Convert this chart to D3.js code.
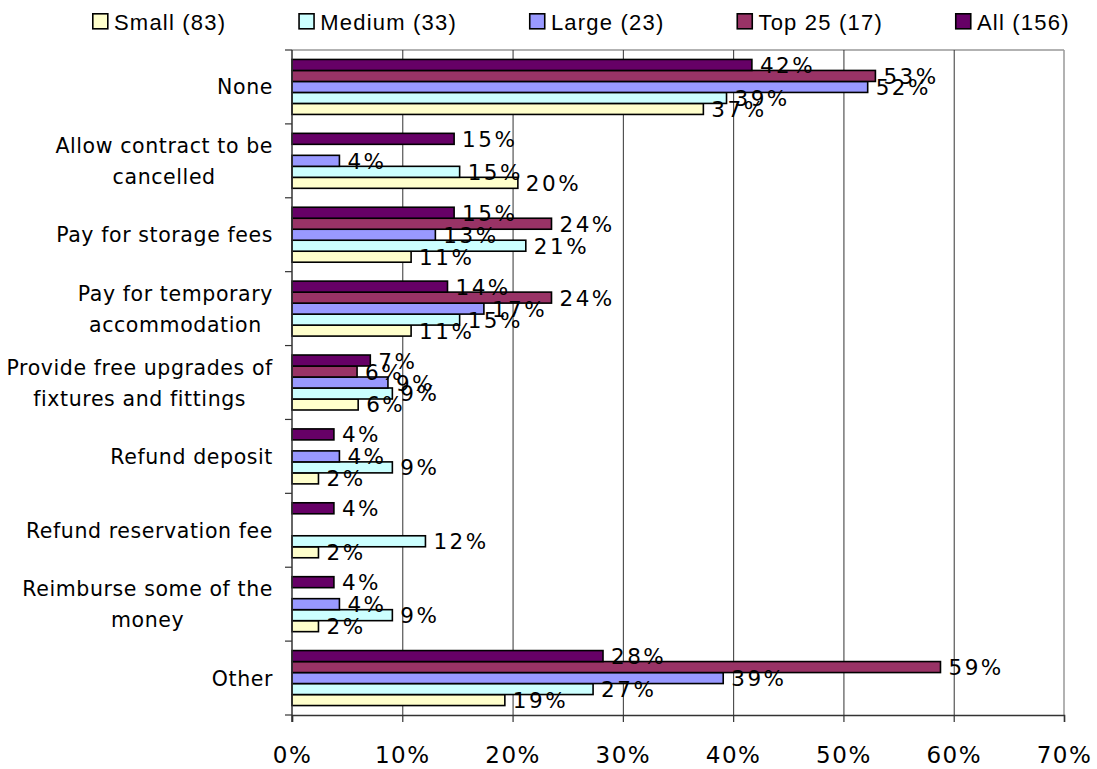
<!DOCTYPE html>
<html>
<head>
<meta charset="utf-8">
<script src="https://cdn.jsdelivr.net/npm/d3@7"></script>
<style>
  html, body { margin: 0; padding: 0; background: #fff; }
  svg { display: block; }
</style>
</head>
<body>
<svg id="chart" width="1097" height="769"></svg>
<script>
// Responses by developer size (percent of respondents in each group)
const categories = [
  "None",
  "Allow contract to be\ncancelled",
  "Pay for storage fees",
  "Pay for temporary\naccommodation",
  "Provide free upgrades of\nfixtures and fittings",
  "Refund deposit",
  "Refund reservation fee",
  "Reimburse some of the\nmoney",
  "Other"
];

const seriesNames = ["Small (83)", "Medium (33)", "Large (23)", "Top 25 (17)", "All (156)"];

const smallValues  = [37.3, 20.48, 10.8, 10.8, 6.0, 2.4, 2.4, 2.4, 19.3];
const mediumValues = [39.4, 15.2, 21.2, 15.2, 9.1, 9.1, 12.1, 9.1, 27.3];
const largeValues  = [52.2, 4.3, 13.0, 17.4, 8.7, 4.3, 0, 4.3, 39.1];
const top25Values  = [52.9, 0, 23.53, 23.53, 5.9, 0, 0, 0, 58.8];
const allValues    = [41.7, 14.7, 14.7, 14.1, 7.1, 3.8, 3.8, 3.8, 28.2];

const xTicks = [0, 10, 20, 30, 40, 50, 60, 70];

const seriesColors = ["#FFFFCC", "#CCFFFF", "#9999FF", "#993366", "#660066"];
const seriesValues = [smallValues, mediumValues, largeValues, top25Values, allValues];

const series = seriesNames.map((name, i) => ({ name, color: seriesColors[i], values: seriesValues[i] }));

const svg = d3.select("#chart");
const plot = { left: 292, right: 1064, top: 50, bottom: 715 };

const x = d3.scaleLinear().domain([0, 70]).range([plot.left, plot.right]);
const y = d3.scaleBand().domain(categories).range([plot.top, plot.bottom]).padding(0);
// bars stacked top-to-bottom: All, Top 25, Large, Medium, Small
const yInner = d3.scaleBand()
  .domain(seriesNames.slice().reverse())
  .range([0, y.bandwidth()])
  .paddingInner(0)
  .paddingOuter(0.86);

// plot frame (top and right) in grey
svg.append("line").attr("x1", plot.left).attr("x2", plot.right).attr("y1", plot.top).attr("y2", plot.top)
  .attr("stroke", "#999").attr("stroke-width", 1.5);
svg.append("line").attr("x1", plot.right).attr("x2", plot.right).attr("y1", plot.top).attr("y2", plot.bottom)
  .attr("stroke", "#999").attr("stroke-width", 1.5);

// vertical gridlines
svg.append("g")
  .selectAll("line")
  .data(xTicks.filter(t => t > 0 && t < 70))
  .join("line")
  .attr("x1", d => x(d) + 0.5).attr("x2", d => x(d) + 0.5)
  .attr("y1", plot.top).attr("y2", plot.bottom)
  .attr("stroke", "#333").attr("stroke-width", 1);

// bars
const groups = svg.append("g")
  .selectAll("g")
  .data(series)
  .join("g")
  .attr("fill", d => d.color);

groups.selectAll("rect")
  .data(s => s.values.map((v, i) => ({ v, cat: categories[i], name: s.name })).filter(d => d.v > 0))
  .join("rect")
  .attr("x", x(0))
  .attr("y", d => y(d.cat) + yInner(d.name))
  .attr("width", d => x(d.v) - x(0))
  .attr("height", yInner.bandwidth())
  .attr("stroke", "#000")
  .attr("stroke-width", 1.6);

// data labels
const fmt = v => d3.format(".0f")(v) + "%";
svg.append("g")
  .selectAll("g")
  .data(series)
  .join("g")
  .selectAll("text")
  .data(s => s.values.map((v, i) => ({ v, cat: categories[i], name: s.name })).filter(d => d.v > 0))
  .join("text")
  .attr("x", d => x(d.v) + 8)
  .attr("y", d => y(d.cat) + yInner(d.name) + yInner.bandwidth() / 2 + 8)
  .attr("font-family", "'DejaVu Sans', Verdana, sans-serif")
  .attr("font-size", 21.5)
  .attr("letter-spacing", "2.5px")
  .attr("fill", "#000")
  .text(d => fmt(d.v));

// bottom axis
const xAxis = d3.axisBottom(x).tickValues(xTicks).tickFormat(d => d + "%").tickSize(7).tickPadding(25);
const gx = svg.append("g").attr("transform", `translate(0,${plot.bottom})`).call(xAxis);
gx.select(".domain").attr("stroke", "#333").attr("stroke-width", 1.5);
gx.selectAll(".tick line").attr("stroke", "#333").attr("stroke-width", 1.2);
gx.selectAll(".tick text")
  .attr("font-family", "'DejaVu Sans', Verdana, sans-serif")
  .attr("font-size", 23)
  .attr("letter-spacing", "1.5px")
  .attr("fill", "#000");

// left axis with boundary ticks between categories
const gy = svg.append("g");
gy.append("line").attr("x1", plot.left).attr("x2", plot.left).attr("y1", plot.top).attr("y2", plot.bottom + 7)
  .attr("stroke", "#333").attr("stroke-width", 1.5);
gy.selectAll("line.tick")
  .data(categories.map(c => y(c)).concat([plot.bottom]))
  .join("line")
  .attr("class", "tick")
  .attr("x1", plot.left - 7).attr("x2", plot.left)
  .attr("y1", d => d).attr("y2", d => d)
  .attr("stroke", "#333").attr("stroke-width", 1.2);

// category labels: right aligned block, lines centred within the block
const catLabelRight = 273;
const lineGap = 31;
const catG = svg.append("g")
  .attr("font-family", "'DejaVu Sans', Verdana, sans-serif")
  .attr("font-size", 20.5)
  .attr("letter-spacing", "0.6px")
  .attr("fill", "#000");

categories.forEach(c => {
  const lines = c.split("\n");
  const cy = y(c) + y.bandwidth() / 2;
  const t = catG.append("text").attr("text-anchor", "middle");
  lines.forEach((ln, i) => {
    t.append("tspan")
      .attr("x", 0)
      .attr("y", cy + 7.5 + (i - (lines.length - 1) / 2) * lineGap)
      .text(ln);
  });
  const w = t.node().getBBox().width;
  t.selectAll("tspan").attr("x", catLabelRight - w / 2);
});

// legend
const legend = svg.append("g")
  .attr("font-family", "'Liberation Sans', Arial, sans-serif")
  .attr("font-size", 22)
  .attr("letter-spacing", "1.2px");
let lx = 92;
series.forEach(s => {
  const item = legend.append("g").attr("transform", `translate(${lx},0)`);
  item.append("rect").attr("x", 0.8).attr("y", 13.8).attr("width", 15).attr("height", 15)
    .attr("fill", s.color).attr("stroke", "#000").attr("stroke-width", 1.6);
  const txt = item.append("text").attr("x", 22).attr("y", 30).attr("fill", "#000").text(s.name);
  lx += 22 + txt.node().getComputedTextLength() + 72;
});
</script>
</body>
</html>
